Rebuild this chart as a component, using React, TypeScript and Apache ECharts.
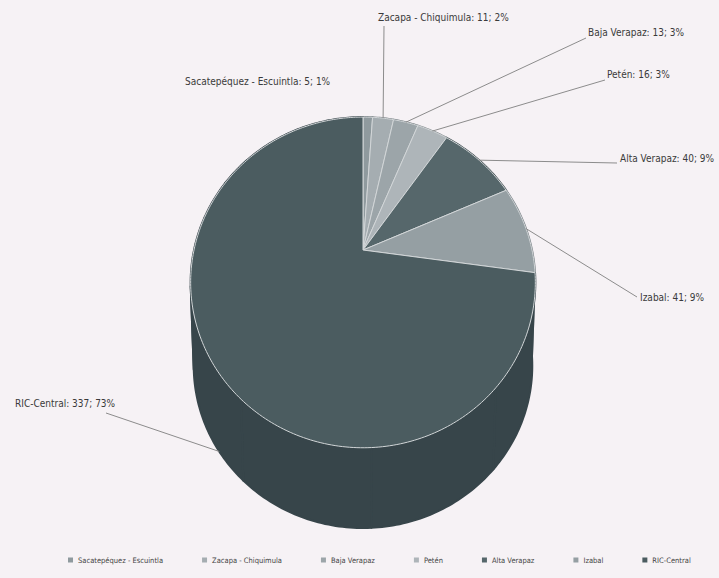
import React, { useEffect, useRef } from "react";
import * as echarts from "echarts";

// ---- data ----
const categories = [
  "Sacatepéquez - Escuintla",
  "Zacapa - Chiquimula",
  "Baja Verapaz",
  "Petén",
  "Alta Verapaz",
  "Izabal",
  "RIC-Central",
];
const values = [5, 11, 13, 16, 40, 41, 337];

// ---- styles / layout (not data) ----
const topColors = ["#8f9a9e", "#a5adb1", "#9ca5a9", "#aeb5b9", "#56676b", "#959fa3", "#4b5c60"];
const sideColors = ["#6e787c", "#7f878b", "#788185", "#878e92", "#3f4d50", "#737d81", "#37454a"];
// label left x, middle y, leader end x, y (null = no leader), anchor on bottom face?
const labelLayout: [number, number, number | null, number | null, boolean][] = [
  [185, 81, null, null, false],
  [378, 17, 384, 26, false],
  [588, 32, 586, 38, false],
  [607, 74, 605, 80, false],
  [620, 158, 617, 163, false],
  [640, 297, 637, 297, false],
  [15, 403, 106, 413, true],
];

const FONT = '"Liberation Sans Narrow", "DejaVu Sans Condensed", "Roboto Condensed", sans-serif';

const total = values.reduce((a, b) => a + b, 0);
const starts: number[] = [];
{
  let acc = 0;
  values.forEach((v) => {
    starts.push(acc);
    acc += v;
  });
}

type Face = { cx: number; cy: number; s: number; t: number; k: number };
const TOP: Face = { cx: 363, cy: 250, s: 169, t: 159, k: 0.196 };
const BOT: Face = { cx: 363, cy: 334, s: 166, t: 156, k: 0.196 };

function proj(f: Face, th: number): number[] {
  const u = Math.sin(th);
  const v = -Math.cos(th);
  const w = 1 - f.k * v;
  return [f.cx + (f.s * u) / w, f.cy + (f.t * v) / w];
}

export default function App() {
  const ref = useRef<HTMLDivElement>(null);
  useEffect(() => {
    if (!ref.current) return;
    const chart = echarts.init(ref.current, undefined, { renderer: "svg" });
    const option: any = {
      animation: false,
      backgroundColor: "#f6f2f5",
      legend: {
        bottom: 9,
        left: 63,
        icon: "rect",
        itemWidth: 5,
        itemHeight: 5,
        itemGap: 39,
        selectedMode: false,
        textStyle: { fontSize: 7.5, color: "#444", fontFamily: FONT },
        data: categories,
      },
      series: [
        {
          type: "custom",
          coordinateSystem: "none",
          silent: true,
          data: values.map((v, i) => ({ name: categories[i], value: [v] })),
          renderItem: (params: any, api: any) => {
            const i = params.dataIndex;
            const v = api.value(0) as number;
            const a0 = (starts[i] / total) * Math.PI * 2;
            const a1 = ((starts[i] + v) / total) * Math.PI * 2;
            const n = Math.max(2, Math.ceil((a1 - a0) / (Math.PI / 180)));
            const topPts: number[][] = [];
            const botPts: number[][] = [];
            for (let j = 0; j <= n; j++) {
              const th = a0 + ((a1 - a0) * j) / n;
              topPts.push(proj(TOP, th));
              botPts.push(proj(BOT, th));
            }
            const children: any[] = [];
            // side wall, in chunks
            const CH = 40;
            for (let j = 0; j < n; j += CH) {
              const e = Math.min(n, j + CH);
              const pts: number[][] = [];
              for (let q = j; q <= e; q++) pts.push(topPts[q]);
              for (let q = e; q >= j; q--) pts.push(botPts[q]);
              const thm = a0 + ((a1 - a0) * ((j + e) / 2)) / n;
              children.push({
                type: "polygon",
                shape: { points: pts },
                style: {
                  fill: sideColors[i],
                  stroke: sideColors[i],
                  lineWidth: 2,
                  lineJoin: "round",
                },
                z2: -Math.cos(thm) > 0.19 ? 2 : 1,
              });
            }
            children.push({
              type: "polygon",
              shape: { points: [[TOP.cx, TOP.cy], ...topPts] },
              style: { fill: topColors[i], stroke: "#d2d6d8", lineWidth: 1 },
              z2: 10,
            });
            const L = labelLayout[i];
            const pct = Math.round((v / total) * 100);
            if (L[2] !== null && L[3] !== null) {
              const am = (a0 + a1) / 2;
              const p = proj(L[4] ? BOT : TOP, am);
              children.push({
                type: "polyline",
                shape: { points: [p, [L[2], L[3]]] },
                style: { stroke: "#8c8c8c", lineWidth: 1, fill: "none" },
                z2: 20,
              });
            }
            children.push({
              type: "text",
              style: {
                text: `${categories[i]}: ${v}; ${pct}%`,
                x: L[0],
                y: L[1],
                fill: "#3a3a3a",
                fontSize: 10,
                fontFamily: FONT,
                verticalAlign: "middle",
                align: "left",
              },
              z2: 20,
            });
            return { type: "group", children };
          },
        },
        {
          type: "pie",
          radius: 0,
          center: [-50, -50],
          silent: true,
          label: { show: false },
          labelLine: { show: false },
          data: values.map((v, i) => ({
            name: categories[i],
            value: v,
            itemStyle: { color: topColors[i] },
          })),
        },
      ],
    };
    chart.setOption(option);
    return () => chart.dispose();
  }, []);
  return (
    <div
      ref={ref}
      style={{ position: "fixed", left: 0, top: 0, width: 719, height: 578 }}
    />
  );
}
